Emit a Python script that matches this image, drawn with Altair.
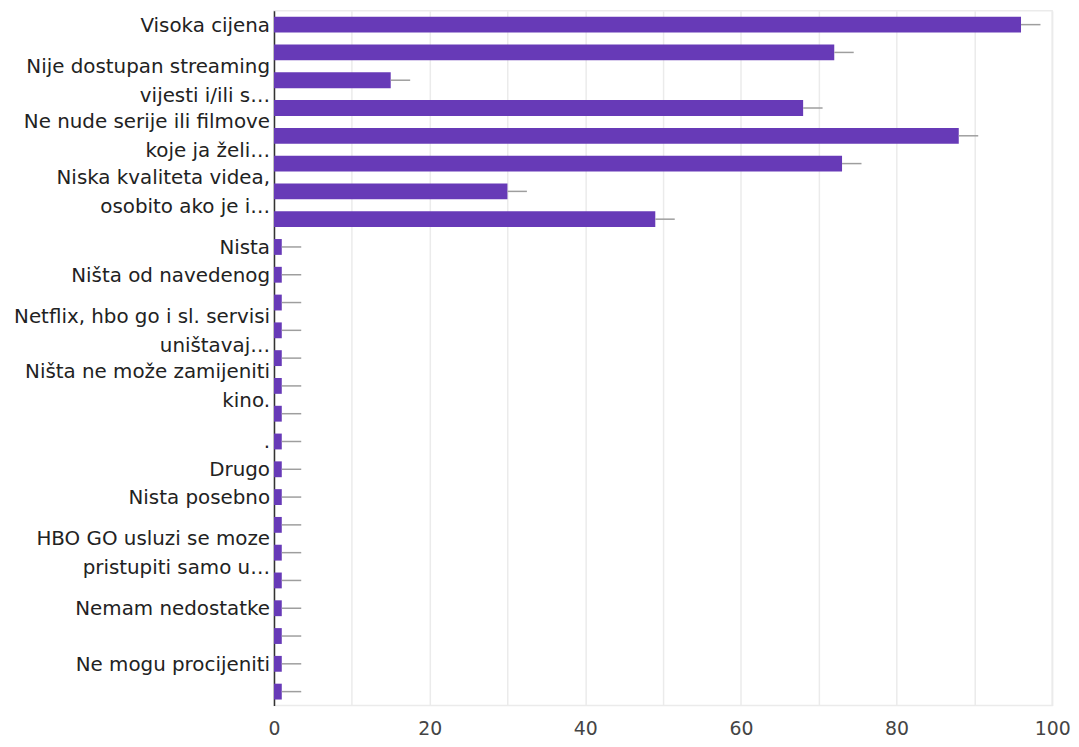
import altair as alt
import pandas as pd

# Category labels (wrapped labels as two-line lists; labels Google hid are "")
labels = [
    "Visoka cijena",
    "",
    ["Nije dostupan streaming", "vijesti i/ili s…"],
    "",
    ["Ne nude serije ili filmove", "koje ja želi…"],
    "",
    ["Niska kvaliteta videa,", "osobito ako je i…"],
    "",
    "Nista",
    "Ništa od navedenog",
    "",
    ["Netflix, hbo go i sl. servisi", "uništavaj…"],
    "",
    ["Ništa ne može zamijeniti", "kino."],
    "",
    ".",
    "Drugo",
    "Nista posebno",
    "",
    ["HBO GO usluzi se moze", "pristupiti samo u…"],
    "",
    "Nemam nedostatke",
    "",
    "Ne mogu procijeniti",
    "",
]
values = [96, 72, 15, 68, 88, 73, 30, 49,
          1, 1, 1, 1, 1, 1, 1, 1, 1, 1, 1, 1, 1, 1, 1, 1, 1]
whisker = [2.5, 2.5, 2.5, 2.5, 2.5, 2.5, 2.5, 2.5, 2.5, 2.5, 2.5, 2.5, 2.5,
           2.5, 2.5, 2.5, 2.5, 2.5, 2.5, 2.5, 2.5, 2.5, 2.5, 2.5, 2.5]
x_ticks = [0, 10, 20, 30, 40, 50, 60, 70, 80, 90, 100]

df = pd.DataFrame({
    "row": list(range(len(values))),
    "value": values,
    "hi": [v + w for v, w in zip(values, whisker)],
})

# label table: one row per text line, with line position (-1 top, 0 single, 1 bottom)
lab_rows = []
for i, lab in enumerate(labels):
    if isinstance(lab, list):
        lab_rows.append({"row": i, "text": lab[0], "pos": -1})
        lab_rows.append({"row": i, "text": lab[1], "pos": 1})
    elif lab:
        lab_rows.append({"row": i, "text": lab, "pos": 0})
ldf = pd.DataFrame(lab_rows)

FONT = "DejaVu Sans"
YSCALE = alt.Scale(paddingInner=0.43, paddingOuter=0.215, domain=list(range(len(values))))

y_enc = alt.Y(
    "row:O",
    title=None,
    scale=YSCALE,
    axis=alt.Axis(
        labels=False,
        ticks=False,
        domainColor="#333333",
        domainWidth=1.5,
        grid=False,
    ),
)

x_enc = alt.X(
    "value:Q",
    title=None,
    scale=alt.Scale(domain=[0, 100], nice=False),
    axis=alt.Axis(
        values=x_ticks,
        labelExpr="datum.value % 20 == 0 ? datum.label : ''",
        labelFont=FONT,
        labelFontSize=19,
        labelColor="#444444",
        labelPadding=14,
        labelFlush=False,
        labelBound=False,
        ticks=False,
        domain=False,
        gridColor="#ebebeb",
        gridWidth=1.5,
    ),
)

bars = alt.Chart(df).mark_bar(color="#673ab7").encode(x=x_enc, y=y_enc)
rules = alt.Chart(df).mark_rule(color="#9e9e9e", strokeWidth=1.5).encode(
    x="value:Q", x2="hi:Q", y=alt.Y("row:O", scale=YSCALE)
)


def text_layer(pos, dy):
    return (
        alt.Chart(ldf)
        .transform_filter(alt.datum.pos == pos)
        .mark_text(align="right", baseline="middle", font=FONT, fontSize=20,
                   color="#222222", dy=dy)
        .encode(x=alt.value(-4), y=alt.Y("row:O", scale=YSCALE), text="text:N")
    )


chart = (
    alt.layer(bars, rules, text_layer(0, 1), text_layer(-1, -13.5), text_layer(1, 15.5))
    .properties(width=784, height=700, padding={"left": 6, "top": 0, "right": 0, "bottom": 0})
    .configure_view(stroke="#ebebeb", strokeWidth=1.5)
)

chart.save("out.html", embed_options={"renderer": "svg", "actions": False})
